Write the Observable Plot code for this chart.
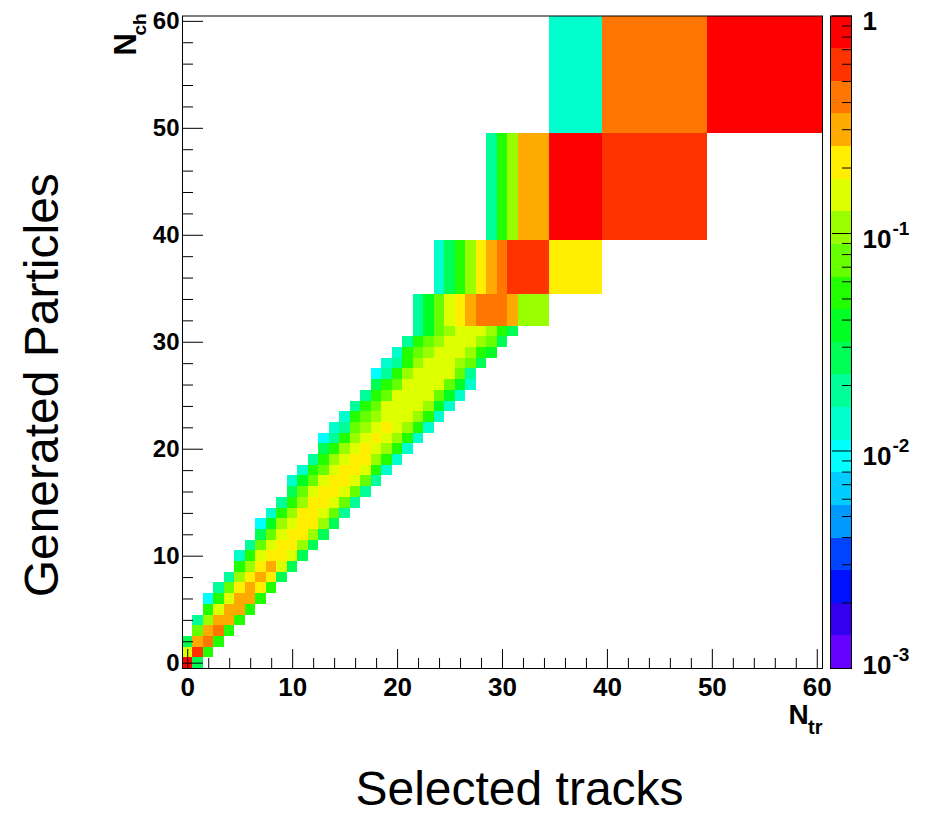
<!DOCTYPE html>
<html><head><meta charset="utf-8">
<script src="https://cdn.jsdelivr.net/npm/d3@7"></script>
<script src="https://cdn.jsdelivr.net/npm/@observablehq/plot@0.6"></script>
<style>
html,body{margin:0;padding:0;background:#fff;}
#wrap{position:relative;width:938px;height:815px;overflow:hidden;background:#fff;}
#wrap svg{position:absolute;top:0;}
</style></head><body><div id="wrap"></div>
<script>
// ---- bin edges (variable binning, same on both axes) ----
const binEdges = [...d3.range(-0.5, 32, 1), 34.5, 39.5, 49.5, 60.5];

// ---- histogram content: per Nch bin (row), first Ntr bin and the values ----
const rowBin   = [0,1,2,3,4,5,6,7,8,9,10,11,12,13,14,15,16,17,18,19,20,21,22,23,24,25,26,27,28,29,30,31,32,33,34,35];
const rowStart = [0,0,0,1,1,2,2,3,4,5,5,6,7,7,8,9,10,10,11,12,13,13,14,15,16,17,18,18,19,20,21,22,22,24,29,33];
const rowValues = [
  [0.84, 0.027],
  [0.15, 0.6, 0.053],
  [0.027, 0.3, 0.42, 0.053],
  [0.075, 0.3, 0.42, 0.053],
  [0.019, 0.105, 0.3, 0.3, 0.053],
  [0.053, 0.15, 0.3, 0.3, 0.053],
  [0.0094, 0.053, 0.15, 0.3, 0.3, 0.053],
  [0.019, 0.075, 0.21, 0.3, 0.21, 0.053],
  [0.019, 0.105, 0.21, 0.3, 0.21, 0.027],
  [0.053, 0.105, 0.21, 0.3, 0.15, 0.027],
  [0.013, 0.053, 0.15, 0.21, 0.21, 0.15, 0.027],
  [0.019, 0.075, 0.15, 0.21, 0.21, 0.105, 0.027],
  [0.027, 0.075, 0.15, 0.21, 0.21, 0.105, 0.027],
  [0.0094, 0.038, 0.105, 0.15, 0.21, 0.21, 0.105, 0.027],
  [0.013, 0.053, 0.105, 0.21, 0.21, 0.15, 0.075, 0.019],
  [0.019, 0.053, 0.105, 0.21, 0.21, 0.15, 0.075, 0.019],
  [0.027, 0.075, 0.15, 0.21, 0.21, 0.15, 0.075, 0.019],
  [0.013, 0.038, 0.075, 0.15, 0.21, 0.21, 0.15, 0.075, 0.019],
  [0.013, 0.053, 0.075, 0.15, 0.21, 0.21, 0.15, 0.053, 0.013],
  [0.019, 0.053, 0.105, 0.15, 0.21, 0.21, 0.105, 0.053, 0.013],
  [0.027, 0.053, 0.105, 0.15, 0.21, 0.15, 0.105, 0.053, 0.013],
  [0.0094, 0.019, 0.053, 0.105, 0.15, 0.21, 0.15, 0.105, 0.053, 0.013],
  [0.013, 0.019, 0.075, 0.105, 0.15, 0.21, 0.15, 0.105, 0.053, 0.013],
  [0.013, 0.053, 0.075, 0.105, 0.15, 0.15, 0.15, 0.105, 0.053, 0.013],
  [0.019, 0.053, 0.075, 0.15, 0.15, 0.15, 0.15, 0.105, 0.038, 0.013],
  [0.019, 0.053, 0.075, 0.15, 0.15, 0.15, 0.15, 0.075, 0.038, 0.013],
  [0.027, 0.053, 0.075, 0.15, 0.15, 0.15, 0.15, 0.075, 0.038, 0.013],
  [0.0094, 0.019, 0.053, 0.105, 0.15, 0.15, 0.15, 0.15, 0.075, 0.019],
  [0.013, 0.019, 0.053, 0.105, 0.15, 0.15, 0.15, 0.105, 0.075, 0.027],
  [0.013, 0.053, 0.075, 0.105, 0.15, 0.15, 0.15, 0.105, 0.053, 0.038],
  [0.019, 0.053, 0.075, 0.105, 0.15, 0.15, 0.15, 0.105, 0.075, 0.027],
  [0.019, 0.038, 0.075, 0.105, 0.15, 0.15, 0.15, 0.105, 0.053, 0.027],
  [0.019, 0.038, 0.075, 0.15, 0.21, 0.3, 0.42, 0.42, 0.42, 0.3, 0.105],
  [0.013, 0.027, 0.053, 0.105, 0.21, 0.3, 0.42, 0.6, 0.6, 0.21],
  [0.019, 0.053, 0.105, 0.3, 0.84, 0.6],
  [0.013, 0.42, 0.84]
];

// ---- axes ticks ----
const majorTicks = [0, 10, 20, 30, 40, 50, 60];
const minorTicks = [2, 4, 6, 8, 12, 14, 16, 18, 22, 24, 26, 28, 32, 34, 36, 38, 42, 44, 46, 48, 52, 54, 56, 58];

// ---- z palette (20 log contours from 1e-3 to 1), low -> high ----
const paletteColors = ["#6600ff","#3300ee","#0011ff","#0044ff","#0099ff","#00ccff","#00ffff","#00ffcc","#00ff99","#00ff55",
                       "#00ff22","#22ff00","#66ff00","#99ff00","#ddff00","#ffee00","#ffaa00","#ff7700","#ff3300","#ff0000"];
const zMin = 1e-3, zMax = 1;
const zLevels = d3.range(1, paletteColors.length).map(j => Math.pow(10, Math.log10(zMin) + j * (Math.log10(zMax) - Math.log10(zMin)) / paletteColors.length));
const cbMajor = [1e-3, 1e-2, 1e-1, 1];
const cbMinor = [2e-3,3e-3,4e-3,5e-3,6e-3,7e-3,8e-3,9e-3,2e-2,3e-2,4e-2,5e-2,6e-2,7e-2,8e-2,9e-2,0.2,0.3,0.4,0.5,0.6,0.7,0.8,0.9];
const cbLabelValues = [1, 0.1, 0.01, 0.001];
const cbLabelBase = ["1", "10", "10", "10"];
const cbLabelExp = ["", "-1", "-2", "-3"];

// ---- build cells ----
const cells = [];
rowBin.forEach((yb, r) => {
  rowValues[r].forEach((v, k) => {
    const xb = rowStart[r] + k;
    cells.push({x1: binEdges[xb], x2: binEdges[xb + 1], y1: binEdges[yb], y2: binEdges[yb + 1], v});
  });
});

const FONT = "'Liberation Sans', Arial, Helvetica, sans-serif";
const noText = () => "";

const main = Plot.plot({
  width: 938, height: 815,
  marginLeft: 182, marginRight: 116, marginTop: 15.5, marginBottom: 147,
  style: {fontFamily: FONT, background: "transparent", overflow: "visible", color: "black"},
  x: {domain: [-0.5, 60.5], axis: null},
  y: {domain: [-0.5, 60.5], axis: null},
  color: {type: "threshold", domain: zLevels, range: paletteColors},
  marks: [
    Plot.rect(cells, {x1: "x1", x2: "x2", y1: "y1", y2: "y2", fill: "v", shapeRendering: "crispEdges"}),
    Plot.frame({stroke: "black", strokeWidth: 1}),
    Plot.axisX(majorTicks, {anchor: "bottom", tickSize: -19, tickFormat: noText, label: null, stroke: "black"}),
    Plot.axisX(minorTicks, {anchor: "bottom", tickSize: -10, tickFormat: noText, label: null, stroke: "black"}),
    Plot.axisY(majorTicks, {anchor: "left", tickSize: -21, tickFormat: noText, label: null, stroke: "black"}),
    Plot.axisY(minorTicks, {anchor: "left", tickSize: -11, tickFormat: noText, label: null, stroke: "black"}),
    Plot.axisX(majorTicks, {anchor: "bottom", tickSize: 0, tickPadding: 9, label: null, fontSize: 26, fontWeight: "bold", fill: "black"}),
    Plot.axisY(majorTicks, {anchor: "left", tickSize: 0, tickPadding: 3, label: null, fontSize: 24, fontWeight: "bold", fill: "black"}),
    Plot.text(["Generated Particles"], {text: d => d, frameAnchor: "left", dx: -125, dy: 43, rotate: -90, textAnchor: "middle", lineAnchor: "bottom", fontSize: 48, fill: "black"}),
    Plot.text(["Selected tracks"], {text: d => d, frameAnchor: "bottom", dx: 17, dy: 136, textAnchor: "middle", lineAnchor: "bottom", fontSize: 48, fill: "black"}),
    Plot.text(["N"], {text: d => d, frameAnchor: "top-left", dx: -47, dy: 39.5, rotate: -90, textAnchor: "start", lineAnchor: "bottom", fontSize: 31, fontWeight: "bold", fill: "black"}),
    Plot.text(["ch"], {text: d => d, frameAnchor: "top-left", dx: -37, dy: 19.5, rotate: -90, textAnchor: "start", lineAnchor: "bottom", fontSize: 19, fontWeight: "bold", fill: "black"}),
    Plot.text(["N"], {text: d => d, frameAnchor: "bottom-right", dx: -34, dy: 55, textAnchor: "start", lineAnchor: "bottom", fontSize: 28, fontWeight: "bold", fill: "black"}),
    Plot.text(["tr"], {text: d => d, frameAnchor: "bottom-right", dx: 0, dy: 65, textAnchor: "end", lineAnchor: "bottom", fontSize: 20, fontWeight: "bold", fill: "black"})
  ]
});
main.style.left = "0px";
document.getElementById("wrap").appendChild(main);

// ---- colour bar ----
const bounds = [zMin, ...zLevels, zMax];
const bands = paletteColors.map((c, i) => ({lo: bounds[i], hi: bounds[i + 1], c}));
const topLabels = cbLabelValues.slice(0, 3);
const botLabels = cbLabelValues.slice(3);
const bar = Plot.plot({
  width: 110, height: 815,
  marginLeft: 2, marginRight: 87, marginTop: 15.5, marginBottom: 147,
  style: {fontFamily: FONT, background: "transparent", overflow: "visible", color: "black"},
  y: {type: "log", domain: [zMin, zMax], axis: null},
  color: {type: "identity"},
  marks: [
    Plot.rect(bands, {y1: "lo", y2: "hi", fill: "c", shapeRendering: "crispEdges"}),
    Plot.frame({stroke: "black", strokeWidth: 1}),
    Plot.axisY(cbMajor, {anchor: "right", tickSize: -20, tickFormat: noText, label: null, stroke: "black"}),
    Plot.axisY(cbMinor, {anchor: "right", tickSize: -10, tickFormat: noText, label: null, stroke: "black"}),
    Plot.text(topLabels, {y: d => d, text: d => cbLabelBase[cbLabelValues.indexOf(d)], frameAnchor: "left", dx: 32, dy: 6, textAnchor: "start", fontSize: 26, fontWeight: "bold", fill: "black"}),
    Plot.text(topLabels, {y: d => d, text: d => cbLabelExp[cbLabelValues.indexOf(d)], frameAnchor: "left", dx: 62, dy: -5, textAnchor: "start", fontSize: 19, fontWeight: "bold", fill: "black"}),
    Plot.text(botLabels, {y: d => d, text: d => cbLabelBase[cbLabelValues.indexOf(d)], frameAnchor: "left", dx: 32, dy: -3, textAnchor: "start", fontSize: 26, fontWeight: "bold", fill: "black"}),
    Plot.text(botLabels, {y: d => d, text: d => cbLabelExp[cbLabelValues.indexOf(d)], frameAnchor: "left", dx: 62, dy: -14, textAnchor: "start", fontSize: 19, fontWeight: "bold", fill: "black"})
  ]
});
bar.style.left = "828px";
document.getElementById("wrap").appendChild(bar);
</script></body></html>
